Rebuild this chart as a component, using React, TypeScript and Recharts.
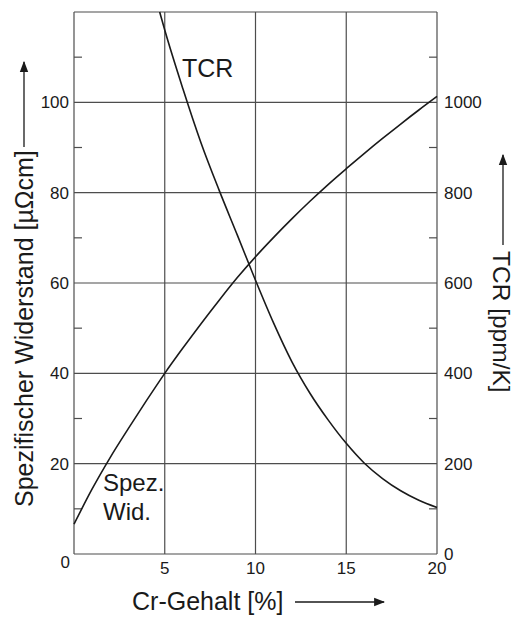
import React from 'react'
import { LineChart, Line, XAxis, YAxis, CartesianGrid, ReferenceLine } from 'recharts'

// Spezifischer Widerstand (linke Achse, µΩcm) über Cr-Gehalt
const resX = [0, 1, 2, 3, 4, 5, 6, 7, 8, 9, 10, 11, 12, 13, 14, 15, 16, 17, 18, 19, 20]
const resValues = [6.6, 14.4, 21.4, 27.8, 34, 40, 45.6, 51, 56.2, 61.2, 65.8, 70.1, 74.2, 78.1, 81.8, 85.3, 88.7, 92, 95.2, 98.3, 101.3]

// TCR (rechte Achse, ppm/K)
const tcrX = [4.72, 5, 6, 7, 8, 9, 10, 11, 12, 13, 14, 15, 16, 17, 18, 19, 20]
const tcrValues = [1200, 1160, 1030, 910, 805, 706, 606, 511, 426, 356, 297, 245, 201, 167, 140, 119, 103]

const xTicks = [0, 5, 10, 15, 20]
const leftTicks = [0, 20, 40, 60, 80, 100, 120]
const rightTicks = [0, 200, 400, 600, 800, 1000, 1200]
const leftMinor = [10, 30, 50, 70, 90, 110]
const leftLabels = [20, 40, 60, 80, 100]
const rightLabels = [0, 200, 400, 600, 800, 1000]

const resData = resX.map((x, i) => ({ x, res: resValues[i] }))
const tcrData = tcrX.map((x, i) => ({ x, tcr: tcrValues[i] }))

const FONT = '"Liberation Sans", Arial, sans-serif'
const INK = '#1a1a1a'
const GRID = '#4d4d4d'

const XTick = (props: any) => {
  const { x, y, payload } = props
  const v = payload.value
  if (v === 0) {
    return (
      <text x={x - 4} y={y + 14} textAnchor="end" fontSize={17} fontFamily={FONT} fill={INK}>
        0
      </text>
    )
  }
  return (
    <text x={x} y={y + 19.5} textAnchor="middle" fontSize={17} fontFamily={FONT} fill={INK}>
      {v}
    </text>
  )
}

const LeftTick = (props: any) => {
  const { x, y, payload } = props
  const v = payload.value
  if (!leftLabels.includes(v)) return <g />
  return (
    <text x={x - 5} y={y + 6} textAnchor="end" fontSize={17} fontFamily={FONT} fill={INK}>
      {v}
    </text>
  )
}

const RightTick = (props: any) => {
  const { x, y, payload } = props
  const v = payload.value
  if (!rightLabels.includes(v)) return <g />
  return (
    <text x={x + 7} y={y + 6} textAnchor="start" fontSize={17} fontFamily={FONT} fill={INK}>
      {v}
    </text>
  )
}

export default function App() {
  return (
    <div style={{ position: 'absolute', left: 0, top: 0, width: 515, height: 619, background: '#fff' }}>
      <LineChart
        width={515}
        height={619}
        margin={{ top: 12, right: 18, bottom: 35, left: 14 }}
      >
        <CartesianGrid
          yAxisId="left"
          horizontalValues={[0, 20, 40, 60, 80, 100, 120]}
          verticalValues={[0, 5, 10, 15, 20]}
          stroke={GRID}
          strokeWidth={1.2}
        />
        <XAxis
          type="number"
          dataKey="x"
          domain={[0, 20]}
          ticks={xTicks}
          interval={0}
          axisLine={false}
          tickLine={false}
          tickSize={0}
          tickMargin={0}
          height={30}
          tick={XTick}
        />
        <YAxis
          yAxisId="left"
          type="number"
          domain={[0, 120]}
          ticks={leftTicks}
          interval={0}
          axisLine={false}
          tickLine={false}
          tickSize={0}
          tickMargin={0}
          width={60}
          tick={LeftTick}
        />
        <YAxis
          yAxisId="right"
          orientation="right"
          type="number"
          domain={[0, 1200]}
          ticks={rightTicks}
          interval={0}
          axisLine={false}
          tickLine={false}
          tickSize={0}
          tickMargin={0}
          width={60}
          tick={RightTick}
        />
        {/* kurze Zwischenstriche innen an beiden Achsen */}
        {leftMinor.map((v) => (
          <ReferenceLine
            key={'l' + v}
            yAxisId="left"
            segment={[{ x: 0, y: v }, { x: 0.44, y: v }]}
            stroke={GRID}
            strokeWidth={1.2}
          />
        ))}
        {leftMinor.map((v) => (
          <ReferenceLine
            key={'r' + v}
            yAxisId="left"
            segment={[{ x: 19.56, y: v }, { x: 20, y: v }]}
            stroke={GRID}
            strokeWidth={1.2}
          />
        ))}
        <Line
          yAxisId="left"
          data={resData}
          dataKey="res"
          type="monotone"
          stroke={INK}
          strokeWidth={1.6}
          dot={false}
          isAnimationActive={false}
        />
        <Line
          yAxisId="right"
          data={tcrData}
          dataKey="tcr"
          type="monotone"
          stroke={INK}
          strokeWidth={1.6}
          dot={false}
          isAnimationActive={false}
        />
      </LineChart>
      {/* Achsentitel, Pfeile und Kurvenbeschriftungen */}
      <svg
        width={515}
        height={619}
        style={{ position: 'absolute', left: 0, top: 0, pointerEvents: 'none' }}
        fontFamily={FONT}
        fill={INK}
      >
        <defs>
          <marker id="arr" viewBox="0 0 10 10" refX="9" refY="5" markerWidth="11" markerHeight="11" orient="auto-start-reverse" markerUnits="userSpaceOnUse">
            <path d="M0,1.2 L10,5 L0,8.8 z" fill={INK} />
          </marker>
        </defs>
        <text x={132} y={610} fontSize={25}>Cr-Gehalt [%]</text>
        <line x1={295} y1={602} x2={384} y2={602} stroke={INK} strokeWidth={1.3} markerEnd="url(#arr)" />

        <text x={33} y={507} fontSize={25} transform="rotate(-90 33 507)">Spezifischer Widerstand [µΩcm]</text>
        <line x1={24} y1={147} x2={24} y2={62} stroke={INK} strokeWidth={1.3} markerEnd="url(#arr)" />

        <text x={493} y={251} fontSize={24.5} transform="rotate(90 493 251)">TCR [ppm/K]</text>
        <line x1={503} y1={245} x2={503} y2={155} stroke={INK} strokeWidth={1.3} markerEnd="url(#arr)" />

        <text x={182} y={77} fontSize={25}>TCR</text>
        <text x={103} y={491} fontSize={24}>Spez.</text>
        <text x={103} y={520} fontSize={24}>Wid.</text>
      </svg>
    </div>
  )
}
